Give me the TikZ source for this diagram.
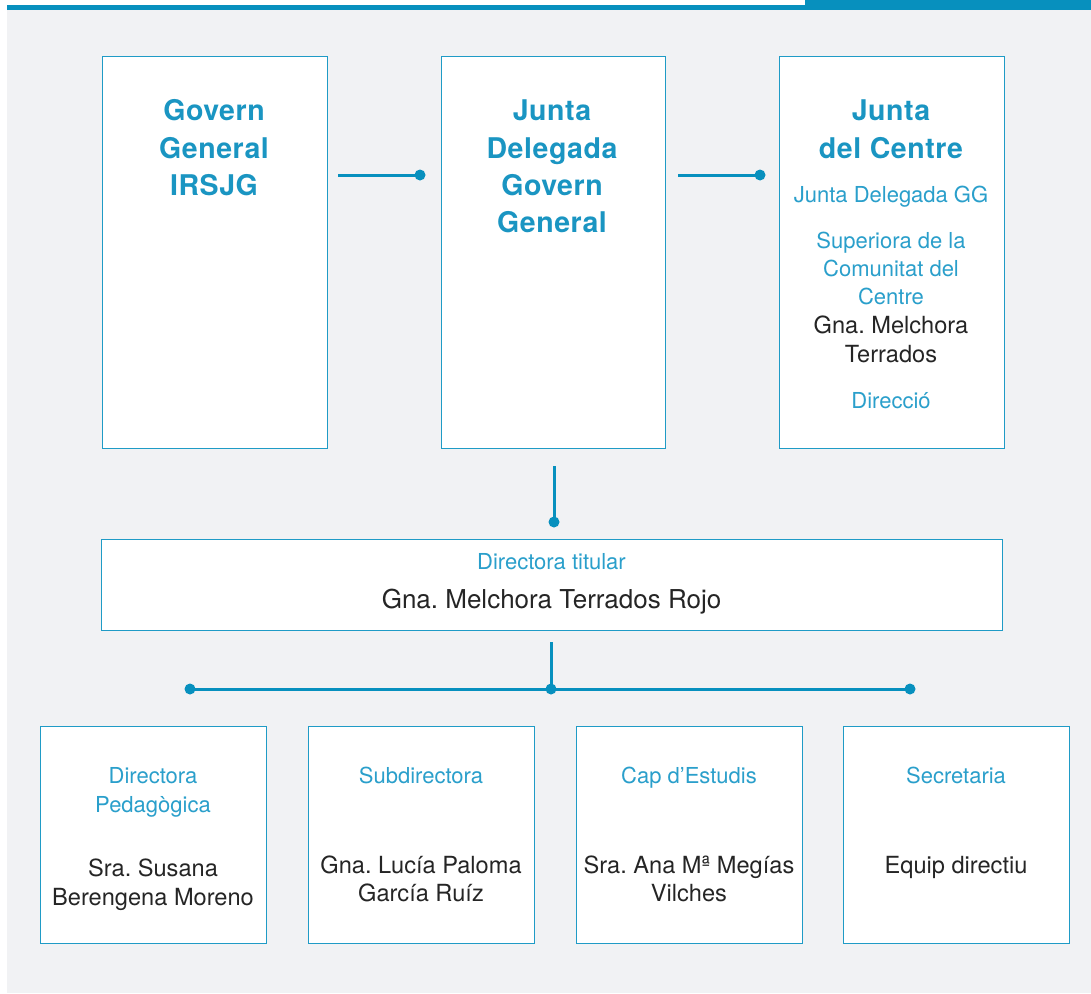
\documentclass[tikz,border=0pt]{standalone}
\usepackage{fontspec}
\setmainfont{TeX Gyre Heros}
\newfontfamily\titlefont[LetterSpace=2]{TeX Gyre Heros}
\definecolor{bg}{HTML}{F1F2F4}
\definecolor{bar}{HTML}{0790BE}
\definecolor{ttl}{HTML}{1A95C2}
\definecolor{lbl}{HTML}{2A9FCB}
\definecolor{ink}{HTML}{252525}
\definecolor{edge}{HTML}{1F9BC6}
\tikzset{
  box/.style={draw=edge, line width=1.4pt, fill=white, anchor=north west, inner sep=0pt},
  link/.style={draw=bar, line width=3pt},
  dotc/.style={circle, fill=bar, inner sep=0pt, minimum size=11pt},
  tt/.style={font=\titlefont\fontsize{28.5}{30}\selectfont\bfseries, text=ttl, anchor=base, inner sep=0pt},
  bl/.style={font=\fontsize{22}{24}\selectfont, text=lbl, anchor=base, inner sep=0pt},
  bk/.style={font=\fontsize{23.6}{24}\selectfont, text=ink, anchor=base, inner sep=0pt},
  bkl/.style={font=\fontsize{26}{26}\selectfont, text=ink, anchor=base, inner sep=0pt},
}
\begin{document}
\frenchspacing
\begin{tikzpicture}[x=1pt,y=-1pt]
\useasboundingbox (0,0) rectangle (1091,993);
\fill[bg] (7,0) rectangle (1091,993);
\fill[white] (0,0) rectangle (1091,5);
\fill[bar] (7,5) rectangle (1091,10);
\fill[bar] (805,0) rectangle (1091,10);
% top boxes
\node[box, minimum width=225pt, minimum height=392pt] (b1) at (102,56) {};
\node[box, minimum width=224pt, minimum height=392pt] (b2) at (441,56) {};
\node[box, minimum width=225pt, minimum height=392pt] (b3) at (779,56) {};
\node[tt] (t11) at (214,120) {Govern};
\node[tt] (t12) at (214,158) {General};
\node[tt] (t13) at (214,195) {IRSJG};
\node[tt] (t21) at (552,120) {Junta};
\node[tt] (t22) at (552,158) {Delegada};
\node[tt] (t23) at (552,195) {Govern};
\node[tt] (t24) at (552,232) {General};
\node[tt] (t31) at (891,120) {Junta};
\node[tt] (t32) at (891,158) {del Centre};
\node[bl] (t33) at (891,202) {Junta Delegada GG};
\node[bl] (t34) at (891,248) {Superiora de la};
\node[bl] (t35) at (891,276) {Comunitat del};
\node[bl] (t36) at (891,304) {Centre};
\node[bk] (t37) at (891,333) {Gna. Melchora};
\node[bk] (t38) at (891,362) {Terrados};
\node[bl] (t39) at (891,408) {Direcció};
% connectors top
\coordinate (a1) at (338,175);
\coordinate (a2) at (420,175);
\coordinate (a3) at (678,175);
\coordinate (a4) at (760,175);
\draw[link] (a1) -- (a2);
\node[dotc] (d1) at (a2) {};
\draw[link] (a3) -- (a4);
\node[dotc] (d2) at (a4) {};
% wide box
\node[box, minimum width=901pt, minimum height=91pt] (w) at (101,539) {};
\coordinate (v1) at (554,466);
\coordinate (v2) at (554,522);
\draw[link] (v1) -- (v2);
\node[dotc] (d3) at (v2) {};
\node[bl] (w1) at (551.5,569) {Directora titular};
\node[bkl] (w2) at (551.5,608.5) {Gna. Melchora Terrados Rojo};
% bus
\coordinate (h0) at (551,642);
\coordinate (hl) at (190,689);
\coordinate (hm) at (551,689);
\coordinate (hr) at (910,689);
\draw[link] (h0) -- (hm);
\draw[link] (hl) -- (hr);
\node[dotc] (d4) at (hl) {};
\node[dotc] (d5) at (hm) {};
\node[dotc] (d6) at (hr) {};
% bottom boxes
\node[box, minimum width=226pt, minimum height=217pt] (c1) at (40,726) {};
\node[box, minimum width=226pt, minimum height=217pt] (c2) at (308,726) {};
\node[box, minimum width=226pt, minimum height=217pt] (c3) at (576,726) {};
\node[box, minimum width=226pt, minimum height=217pt] (c4) at (843,726) {};
\node[bl] (c11) at (153,783) {Directora};
\node[bl] (c12) at (153,812) {Pedagògica};
\node[bk] (c13) at (153,876) {Sra. Susana};
\node[bk] (c14) at (153,905) {Berengena Moreno};
\node[bl] (c21) at (421,783) {Subdirectora};
\node[bk] (c22) at (421,873) {Gna. Lucía Paloma};
\node[bk] (c23) at (421,901) {García Ruíz};
\node[bl] (c31) at (689,783) {Cap d’Estudis};
\node[bk] (c32) at (689,873) {Sra. Ana Mª Megías};
\node[bk] (c33) at (689,901) {Vilches};
\node[bl] (c41) at (956,783) {Secretaria};
\node[bk] (c42) at (956,873) {Equip directiu};
\end{tikzpicture}
\end{document}
